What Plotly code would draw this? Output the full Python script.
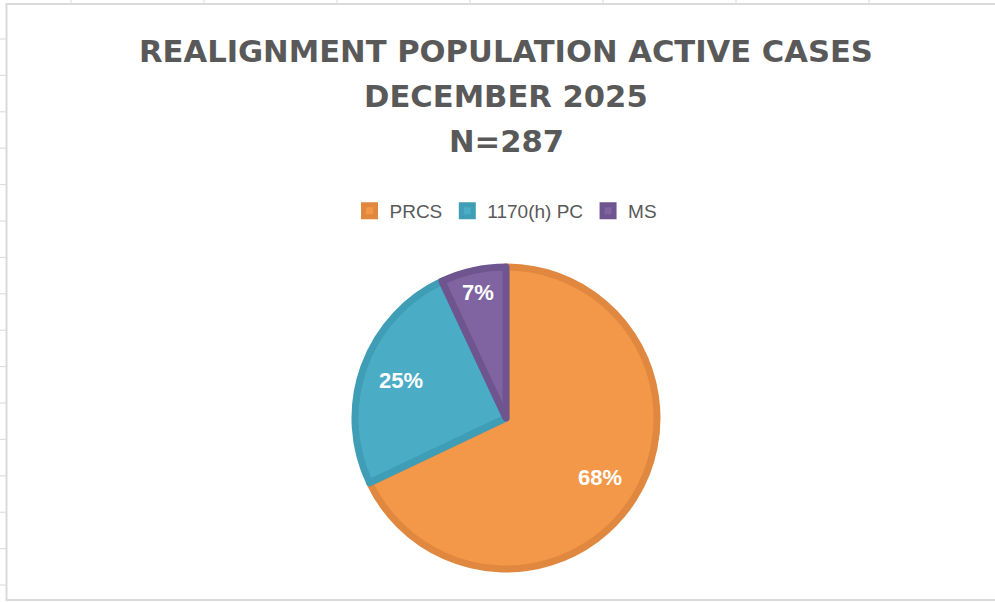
import math
import plotly.graph_objects as go

# ---- data ----
categories = ["PRCS", "1170(h) PC", "MS"]
counts = [195, 72, 20]
title_lines = ["REALIGNMENT POPULATION ACTIVE CASES", "DECEMBER 2025", "N=287"]

fill_colors = ["#F39848", "#4BACC6", "#8064A2"]
edge_colors = ["#E0883F", "#3F9DB5", "#6E5590"]

W, H = 995, 602
TXT = "#595959"
TITLE_FONT = "DejaVu Sans, Verdana, sans-serif"
FONT = "Liberation Sans, Arial, sans-serif"

# pie geometry (pixels)
CX, CY, R_IN, LW = 506, 418, 151, 7
dom_x = [(CX - (W - CX)) / W, 1.0]
dom_y = [(H - (CY + R_IN)) / H, (H - (CY - R_IN)) / H]

fig = go.Figure()
fig.add_trace(go.Pie(
    labels=categories,
    values=counts,
    sort=False,
    direction="clockwise",
    rotation=0,
    marker=dict(colors=fill_colors, line=dict(color=edge_colors, width=LW)),
    textinfo="none",
    domain=dict(x=dom_x, y=dom_y),
    hoverinfo="label+value+percent",
))

shapes = []
grid = "#DADADA"
# chart border
shapes.append(dict(type="rect", xref="paper", yref="paper",
                   x0=6.5 / W, x1=1.01, y0=(H - 600) / H, y1=(H - 4) / H,
                   line=dict(color=grid, width=2), fillcolor="rgba(0,0,0,0)", layer="below"))
# sheet gridline stubs (decoration)
for k in range(7):
    x = (71 + 133 * k) / W
    shapes.append(dict(type="line", xref="paper", yref="paper", x0=x, x1=x,
                       y0=(H - 4) / H, y1=1.0, line=dict(color=grid, width=1)))
for k in range(16):
    y = (H - (39 + 36.4 * k)) / H
    shapes.append(dict(type="line", xref="paper", yref="paper", x0=0, x1=6 / W,
                       y0=y, y1=y, line=dict(color=grid, width=1)))

annotations = []
title_y = [51, 96, 141]
for txt, yy in zip(title_lines, title_y):
    annotations.append(dict(text="<b>" + txt + "</b>", xref="paper", yref="paper",
                            x=CX / W, y=(H - yy) / H, xanchor="center", yanchor="middle",
                            showarrow=False,
                            font=dict(family=TITLE_FONT, size=30.6, color=TXT)))

# data labels placed at slice mid-angles derived from the values
total = sum(counts)
R_OUT = R_IN + LW / 2
cum = 0.0
for v in counts:
    frac = v / total
    mid = (cum + frac / 2) * 2 * math.pi
    cum += frac
    rr = R_OUT * (0.72 if frac > 0.15 else 0.83)
    px = CX + rr * math.sin(mid)
    py = CY - rr * math.cos(mid)
    annotations.append(dict(text="<b>%d%%</b>" % round(frac * 100), xref="paper", yref="paper",
                            x=px / W, y=(H - py) / H, xanchor="center", yanchor="middle",
                            showarrow=False,
                            font=dict(family=FONT, size=22, color="white")))

fig.update_layout(
    width=W, height=H,
    margin=dict(l=0, r=0, t=0, b=0),
    paper_bgcolor="white",
    plot_bgcolor="white",
    showlegend=True,
    legend=dict(orientation="h", x=CX / W, xanchor="center", y=(H - 211) / H, yanchor="middle",
                font=dict(family=FONT, size=19, color=TXT), itemclick=False,
                traceorder="normal"),
    shapes=shapes,
    annotations=annotations,
)

fig.write_html("out.html", config={"displayModeBar": False},
               post_script="document.body.style.margin='0';document.body.style.overflow='hidden';")
